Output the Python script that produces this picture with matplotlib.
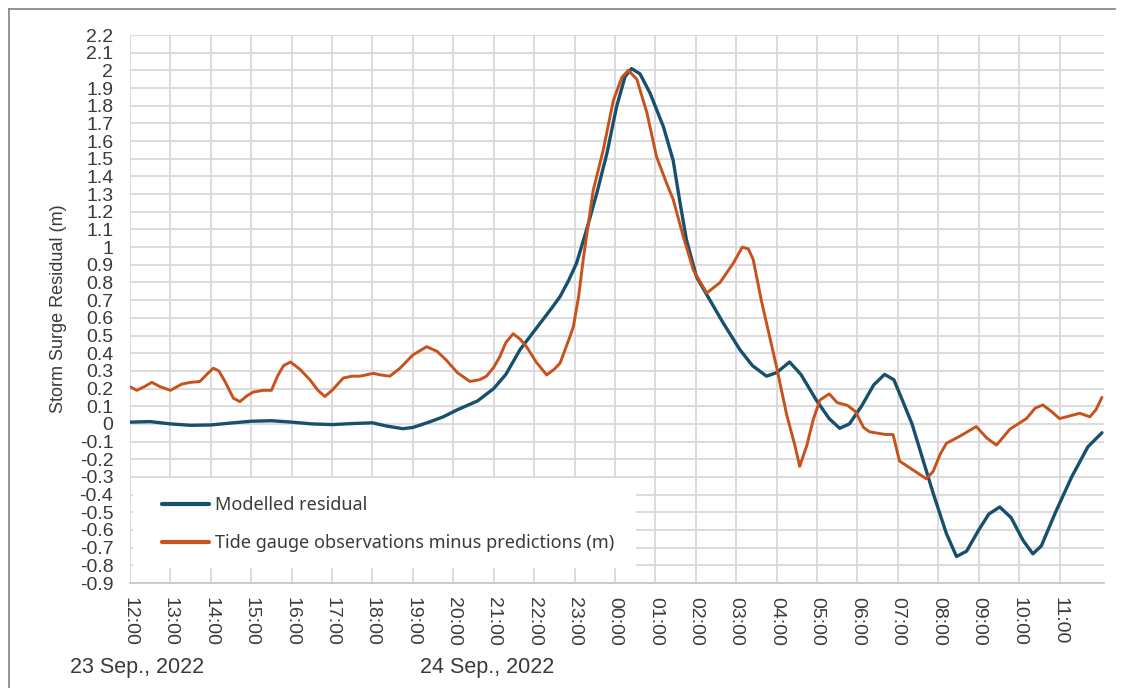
import numpy as np
import matplotlib.pyplot as plt
from matplotlib.patches import Rectangle
from matplotlib.lines import Line2D

# time axis: hours after 12:00 on 23 Sep 2022
model_hours = [0.0, 0.5, 1.0, 1.5, 2.0, 2.5, 3.0, 3.5, 4.0, 4.5, 5.0, 5.5, 6.0,
               6.35, 6.75, 7.0, 7.4, 7.75, 8.1, 8.6, 9.0, 9.3, 9.65, 10.15, 10.45,
               10.64, 10.85, 11.05, 11.3, 11.55, 11.8, 12.04, 12.25, 12.41, 12.62,
               12.87, 13.2, 13.44, 13.61, 13.77, 14.02, 14.35, 14.68, 15.09, 15.4,
               15.75, 16.0, 16.32, 16.6, 16.98, 17.3, 17.56, 17.8, 18.1, 18.4,
               18.67, 18.9, 19.1, 19.35, 19.55, 19.87, 20.2, 20.45, 20.7, 21.0,
               21.25, 21.52, 21.8, 22.1, 22.34, 22.55, 22.9, 23.3, 23.7, 24.05]
model_resid = [0.01, 0.013, 0.0, -0.008, -0.006, 0.005, 0.015, 0.018, 0.01, 0.0,
               -0.004, 0.002, 0.006, -0.012, -0.027, -0.02, 0.01, 0.04, 0.08,
               0.13, 0.2, 0.28, 0.42, 0.57, 0.66, 0.72, 0.81, 0.91, 1.1, 1.305,
               1.53, 1.795, 1.965, 2.01, 1.98, 1.87, 1.68, 1.49, 1.25, 1.04, 0.83,
               0.7, 0.57, 0.42, 0.33, 0.27, 0.29, 0.35, 0.28, 0.135, 0.03, -0.025,
               0.0, 0.1, 0.22, 0.28, 0.25, 0.14, 0.0, -0.15, -0.39, -0.62, -0.75,
               -0.72, -0.6, -0.51, -0.47, -0.53, -0.66, -0.735, -0.69, -0.5, -0.3,
               -0.13, -0.05]

gauge_hours = [0.0, 0.17, 0.35, 0.54, 0.75, 1.0, 1.28, 1.5, 1.73, 1.9, 2.06, 2.2,
               2.35, 2.56, 2.72, 2.9, 3.05, 3.3, 3.5, 3.65, 3.8, 3.97, 4.2, 4.45,
               4.65, 4.82, 5.0, 5.28, 5.5, 5.69, 6.02, 6.2, 6.43, 6.68, 7.0, 7.34,
               7.6, 7.83, 8.1, 8.41, 8.65, 8.82, 9.0, 9.15, 9.3, 9.48, 9.65, 9.81,
               10.05, 10.31, 10.5, 10.64, 10.88, 10.97, 11.1, 11.22, 11.46, 11.71,
               11.96, 12.17, 12.33, 12.54, 12.79, 13.03, 13.28, 13.44, 13.69, 13.94,
               14.27, 14.6, 14.93, 15.15, 15.3, 15.42, 15.62, 16.0, 16.25, 16.45,
               16.57, 16.75, 16.9, 17.07, 17.3, 17.5, 17.75, 17.95, 18.15, 18.3,
               18.7, 18.88, 19.04, 19.37, 19.7, 19.87, 20.05, 20.2, 20.53, 20.94,
               21.2, 21.44, 21.77, 22.18, 22.4, 22.59, 22.8, 23.0, 23.5, 23.75,
               23.9, 24.05]
gauge_resid = [0.21, 0.19, 0.21, 0.235, 0.21, 0.19, 0.225, 0.235, 0.24, 0.28,
               0.315, 0.3, 0.24, 0.145, 0.126, 0.16, 0.18, 0.19, 0.19, 0.27, 0.33,
               0.35, 0.31, 0.25, 0.19, 0.155, 0.19, 0.26, 0.27, 0.27, 0.286, 0.277,
               0.27, 0.315, 0.39, 0.437, 0.41, 0.36, 0.29, 0.24, 0.25, 0.27, 0.32,
               0.38, 0.46, 0.51, 0.48, 0.437, 0.35, 0.277, 0.31, 0.343, 0.49, 0.55,
               0.72, 0.94, 1.32, 1.55, 1.83, 1.96, 2.0, 1.95, 1.76, 1.51, 1.36,
               1.27, 1.06, 0.87, 0.74, 0.8, 0.91, 1.0, 0.99, 0.93, 0.7, 0.32, 0.05,
               -0.12, -0.24, -0.12, 0.02, 0.135, 0.17, 0.12, 0.105, 0.07, -0.02,
               -0.045, -0.06, -0.06, -0.21, -0.26, -0.31, -0.27, -0.17, -0.11,
               -0.07, -0.015, -0.08, -0.12, -0.03, 0.03, 0.09, 0.107, 0.07, 0.03,
               0.06, 0.04, 0.08, 0.15]

hour_labels = ["12:00", "13:00", "14:00", "15:00", "16:00", "17:00", "18:00",
               "19:00", "20:00", "21:00", "22:00", "23:00", "00:00", "01:00",
               "02:00", "03:00", "04:00", "05:00", "06:00", "07:00", "08:00",
               "09:00", "10:00", "11:00"]
day_labels = ["23 Sep., 2022", "24 Sep., 2022"]
series_names = ["Modelled residual", "Tide gauge observations minus predictions (m)"]

blue = "#17506d"
orange = "#c8511c"
grid_c = "#d9d9d9"
txt_c = "#3a3a3a"

plt.rcParams["font.family"] = ["Liberation Sans", "DejaVu Sans"]

fig = plt.figure(figsize=(11.29, 6.88), dpi=100)
ax = fig.add_axes([130 / 1129, 1 - 583 / 688, 974 / 1129, 548 / 688])

ax.plot(model_hours, model_resid, color=blue, lw=2.4, label=series_names[0],
        solid_capstyle="round", solid_joinstyle="round", zorder=4)
ax.plot(gauge_hours, gauge_resid, color=orange, lw=2.1, label=series_names[1],
        solid_capstyle="round", solid_joinstyle="round", zorder=4)

ax.set_xlim(0, 24.1)
ax.set_ylim(-0.9, 2.2)
yt = np.round(np.arange(-9, 23) / 10, 1)
ax.set_yticks(yt)
ax.set_yticklabels(["%g" % v for v in yt])
ax.set_xticks(range(len(hour_labels)))
ax.set_xticklabels(hour_labels, rotation=-90)
ax.tick_params(axis="both", length=0, labelsize=14, colors=txt_c)
ax.tick_params(axis="x", pad=10)
ax.tick_params(axis="y", pad=12)
ax.grid(True, color=grid_c, lw=1.3)
ax.set_axisbelow(True)
for s in ["top", "right", "left"]:
    ax.spines[s].set_visible(False)
ax.spines["bottom"].set_color("#c8c8c8")
ax.spines["bottom"].set_linewidth(1.3)

ax.set_ylabel("Storm Surge Residual (m)", fontsize=13, color=txt_c, labelpad=9)

# white block behind the legend hides the grid
ax.add_patch(Rectangle((0.003, 0.027), 0.516, 0.165, transform=ax.transAxes,
                       facecolor="white", edgecolor="none", zorder=2))
leg = ax.legend(loc="center left", bbox_to_anchor=(0.033, 0.107), frameon=False,
                borderaxespad=0, borderpad=0, handlelength=2.6, handletextpad=0.3,
                labelspacing=1.1, prop={"family": "Noto Sans", "size": 13})
for t in leg.get_texts():
    t.set_color(txt_c)
for h in leg.get_lines():
    h.set_linewidth(3.0)
leg.set_zorder(5)

fig.text(70 / 1129, 1 - 668 / 688, day_labels[0], fontsize=15.5, color=txt_c,
         va="center", ha="left")
fig.text(420 / 1129, 1 - 668 / 688, day_labels[1], fontsize=15.5, color=txt_c,
         va="center", ha="left")

# outer frame (left and top edges visible)
fig.add_artist(Line2D([9 / 1129, 9 / 1129], [0, 1 - 9 / 688], color="#8a8a8a", lw=1.3))
fig.add_artist(Line2D([9 / 1129, 1115 / 1129], [1 - 9 / 688, 1 - 9 / 688],
                      color="#8a8a8a", lw=1.3))

fig.savefig("out.png", dpi=100)
